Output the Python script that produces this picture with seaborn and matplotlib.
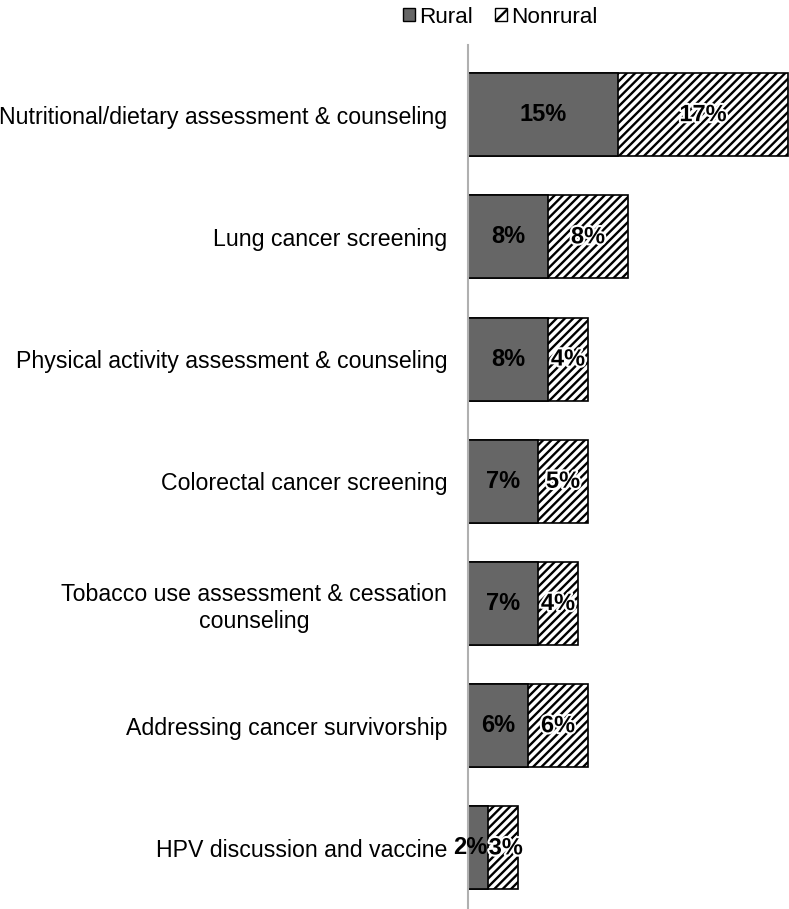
import matplotlib
matplotlib.use("Agg")
import matplotlib.pyplot as plt
import matplotlib.patheffects as pe
import seaborn as sns
import pandas as pd
from matplotlib.patches import Patch

categories = [
    "Nutritional/dietary assessment & counseling",
    "Lung cancer screening",
    "Physical activity assessment & counseling",
    "Colorectal cancer screening",
    "Tobacco use assessment & cessation\ncounseling",
    "Addressing cancer survivorship",
    "HPV discussion and vaccine",
]
rural = [15, 8, 8, 7, 7, 6, 2]
nonrural = [17, 8, 4, 5, 4, 6, 3]

sns.set_theme(style="white")
plt.rcParams['font.family'] = ['Liberation Sans', 'DejaVu Sans']
plt.rcParams['hatch.linewidth'] = 1.7
plt.rcParams['hatch.color'] = 'black'

df = pd.DataFrame({"cat": categories, "rural": rural, "nonrural": nonrural})
df["total"] = df["rural"] + df["nonrural"]

fig = plt.figure(figsize=(7.89, 9.09), dpi=100)
ax = fig.add_axes([468/789, 0.0, 1 - 468/789, 1 - 45/909])

sns.barplot(data=df, x="total", y="cat", orient="h", color="white",
            edgecolor="black", linewidth=1.2, hatch="////", width=0.68, ax=ax)
sns.barplot(data=df, x="rural", y="cat", orient="h", color="#666666",
            edgecolor="black", linewidth=1.2, width=0.68, saturation=1, ax=ax)

halo = [pe.withStroke(linewidth=3, foreground="white")]
for i, (r, n) in enumerate(zip(rural, nonrural)):
    if r < 4:
        # narrow segments: labels sit on either side of the boundary
        ax.annotate(f"{r}%", (r, i), xytext=(-0.5, 0), textcoords="offset points",
                    ha="right", va="center", fontsize=17, fontweight="bold", color="black")
        ax.annotate(f"{n}%", (r, i), xytext=(0.5, 0), textcoords="offset points",
                    ha="left", va="center", fontsize=17, fontweight="bold", color="black",
                    path_effects=halo)
    else:
        ax.text(r / 2, i, f"{r}%", ha="center", va="center", fontsize=17,
                fontweight="bold", color="black")
        ax.text(r + n / 2, i, f"{n}%", ha="center", va="center", fontsize=17,
                fontweight="bold", color="black", path_effects=halo)

ax.set_xlim(0, 32.1)
ax.set_ylim(6.5, -0.57)
ax.set_xlabel("")
ax.set_ylabel("")
ax.set_xticks([])
for s in ["top", "right", "bottom"]:
    ax.spines[s].set_visible(False)
ax.spines["left"].set_color("#b0b0b0")
ax.spines["left"].set_linewidth(1.5)
ax.tick_params(axis="y", length=0, pad=15, labelsize=16.7, labelcolor="black")
for lab in ax.get_yticklabels():
    lab.set_multialignment("center")

handles = [Patch(facecolor="#666666", edgecolor="black", label="Rural"),
           Patch(facecolor="white", edgecolor="black", hatch="//", label="Nonrural")]
fig.legend(handles=handles, loc="upper center", bbox_to_anchor=(500/789, 1.015),
           ncol=2, frameon=False, fontsize=16.2, handlelength=0.55, handleheight=0.55,
           handletextpad=0.15, columnspacing=1.0, labelcolor="black")

fig.savefig("out.png", dpi=100)
